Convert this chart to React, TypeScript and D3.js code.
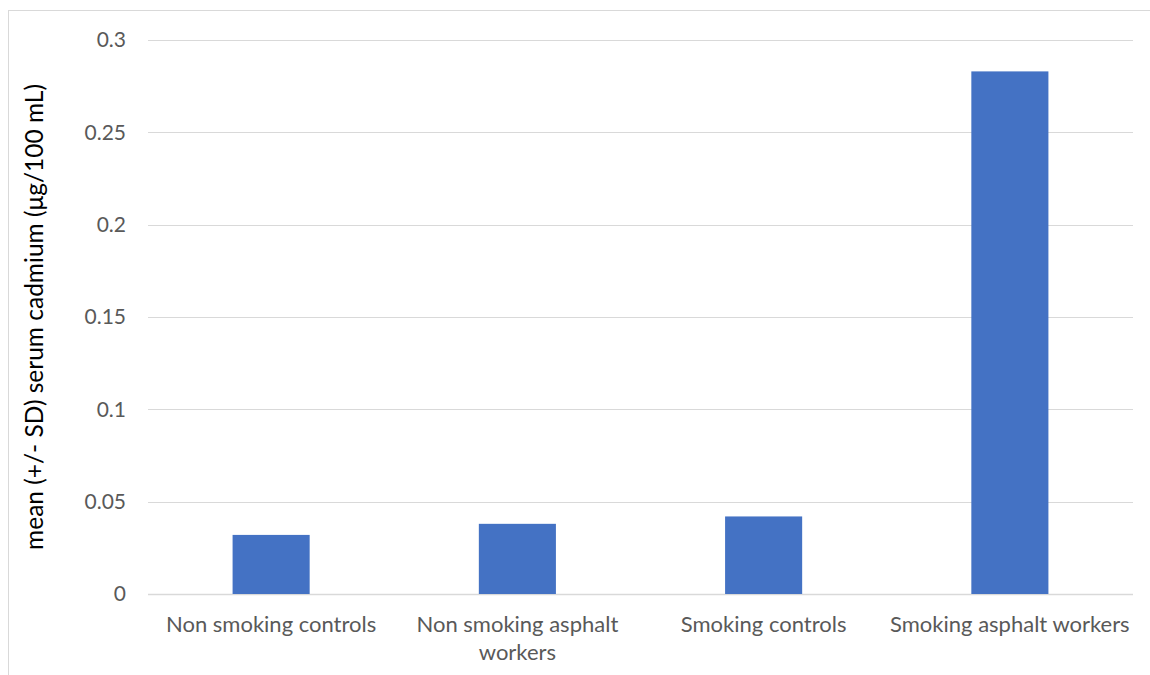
import React, { useEffect, useRef } from "react";
import * as d3 from "d3";

const categories = [
  "Non smoking controls",
  "Non smoking asphalt workers",
  "Smoking controls",
  "Smoking asphalt workers",
];
const values = [0.032, 0.038, 0.042, 0.283];
const yTicks = [0, 0.05, 0.1, 0.15, 0.2, 0.25, 0.3];
const yTitle = "mean (+/- SD) serum cadmium (μg/100 mL)";

const W = 1150;
const H = 675;
const FONT = "Lato, 'Open Sans', sans-serif";

export default function App() {
  const ref = useRef<SVGSVGElement | null>(null);

  useEffect(() => {
    const svg = d3.select(ref.current);
    svg.selectAll("*").remove();

    const left = 148, right = 1133, top = 40, bottom = 594;
    const x = d3.scaleBand<string>().domain(categories).range([left, right]).paddingInner(0.687).paddingOuter(0.3435);
    const y = d3.scaleLinear().domain([0, 0.3]).range([bottom, top]);

    svg.append("rect").attr("x", 8.5).attr("y", 10.5).attr("width", W).attr("height", H)
      .attr("fill", "white").attr("stroke", "#d9d9d9").attr("stroke-width", 1);

    svg.append("g").selectAll("line").data(yTicks).join("line")
      .attr("x1", left).attr("x2", right)
      .attr("y1", (d) => Math.round(y(d)) + 0.5).attr("y2", (d) => Math.round(y(d)) + 0.5)
      .attr("stroke", "#d9d9d9").attr("stroke-width", (d) => (d === 0 ? 1.5 : 1));

    svg.append("g").selectAll("text").data(yTicks).join("text")
      .attr("x", 126).attr("y", (d) => y(d)).attr("dy", "0.35em")
      .attr("text-anchor", "end").attr("fill", "#595959")
      .style("font-family", FONT).style("font-size", "21px")
      .text((d) => (d === 0 ? "0" : d3.format("")(+d.toFixed(2))));

    svg.append("g").selectAll("rect").data(values).join("rect")
      .attr("x", (_, i) => x(categories[i])!)
      .attr("width", x.bandwidth())
      .attr("y", (d) => y(d))
      .attr("height", (d) => bottom - y(d))
      .attr("fill", "#4472c4");

    const band = x.step();
    const labels = svg.append("g");
    const base = 632;
    categories.forEach((c) => {
      const cx = x(c)! + x.bandwidth() / 2;
      const t = labels.append("text").attr("x", cx).attr("y", base)
        .attr("text-anchor", "middle").attr("fill", "#595959")
        .style("font-family", FONT).style("font-size", "22px");
      const words = c.split(" ");
      let line: string[] = [];
      let lineNo = 0;
      let tspan = t.append("tspan").attr("x", cx).attr("y", base);
      for (const w of words) {
        line.push(w);
        tspan.text(line.join(" "));
        if ((tspan.node() as SVGTextContentElement).getComputedTextLength() > band && line.length > 1) {
          line.pop();
          tspan.text(line.join(" "));
          line = [w];
          lineNo++;
          tspan = t.append("tspan").attr("x", cx).attr("y", base + lineNo * 28).text(w);
        }
      }
    });

    svg.append("text")
      .attr("transform", `translate(43, ${(top + bottom) / 2}) rotate(-90)`)
      .attr("text-anchor", "middle").attr("fill", "#000")
      .style("font-family", FONT).style("font-size", "24.5px")
      .text(yTitle);
  }, []);

  return <svg ref={ref} width={W} height={H} style={{ position: "absolute", left: 0, top: 0, display: "block" }} />;
}
